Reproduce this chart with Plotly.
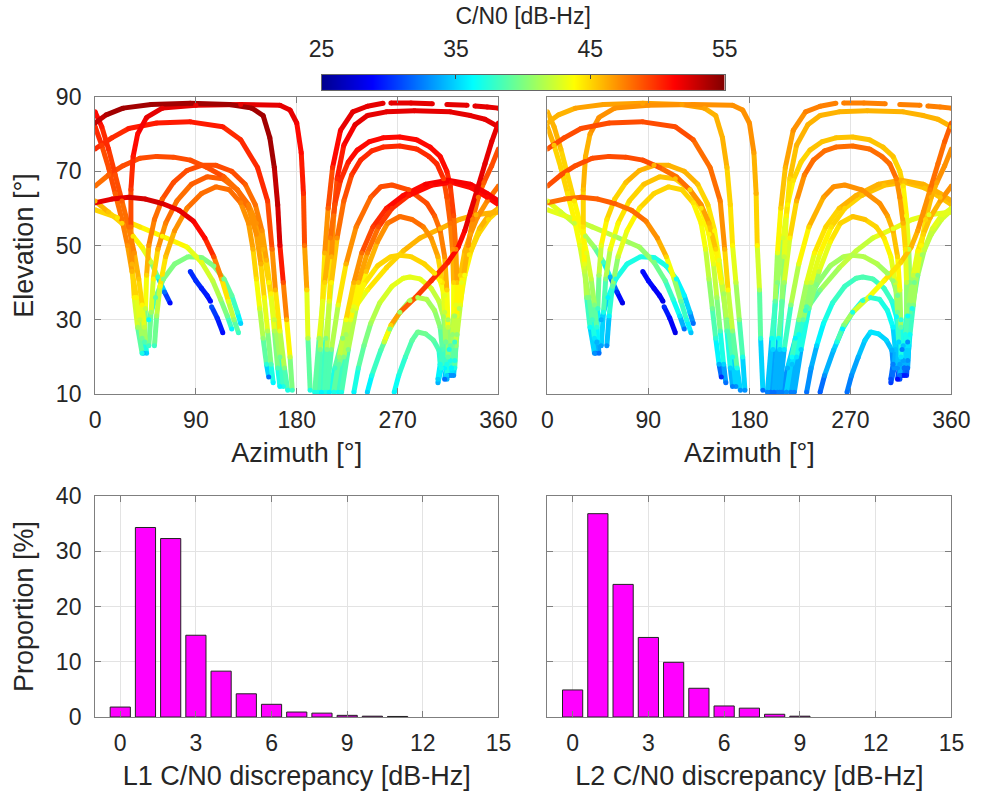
import plotly.graph_objects as go
from plotly.colors import sample_colorscale

# ---------------------------------------------------------------------------
# Satellite tracks: azimuth [deg], elevation [deg] and C/N0 [dB-Hz] on L1 / L2
# ---------------------------------------------------------------------------
track_az = [
    [0, 6, 12, 18, 24, 30, 35, 39, 42, 44, 45, 46],
    [0, 6, 12, 18, 24, 29, 33, 37, 40, 42, 43],
    [0, 10, 25, 50, 85, 120, 140, 150, 156, 160, 163, 165, 168, 171, 174, 176],
    [0, 15, 30, 55, 85, 114, 130, 145, 154, 158, 161, 165, 169, 172],
    [42, 38, 35, 33, 32, 32, 34, 38, 46, 60, 90, 130, 165, 174, 180, 184, 186, 187, 189, 190, 192],
    [199, 201, 203, 205, 208, 212, 219, 230, 243, 257],
    [264, 282, 301],
    [314, 332],
    [339, 350, 360],
    [205, 207, 209, 211, 213, 216, 222, 232, 243, 260, 285, 317, 335, 348, 360],
    [360, 354, 348, 341, 335, 330, 324, 315, 300, 286, 272, 264, 258],
    [360, 354, 347, 342, 337, 333, 329, 326, 323, 321, 320],
    [360, 350, 341, 335, 330, 326, 322, 319, 317, 316],
    [0, 12, 25, 40, 55, 70, 85, 100, 115, 127, 137, 144, 150, 155, 160, 165, 168],
    [44, 45, 46, 48, 53, 60, 70, 82, 95, 108, 122, 134, 143, 149, 153, 157, 160, 163, 165],
    [48, 50, 52, 56, 63, 73, 86, 100, 114, 127, 137, 144, 148, 151, 154, 157, 159],
    [53, 55, 58, 63, 71, 82, 95, 108, 120, 130, 137, 141, 144, 147, 150, 153, 155],
    [0, 15, 30, 45, 60, 75, 88, 98, 106, 113, 119, 124, 128],
    [0, 12, 24, 34, 42, 50, 56, 62, 67],
    [0, 20, 40, 60, 82, 95, 105, 112, 118, 122],
    [48, 54, 61, 71, 83, 95, 106, 115, 122, 127, 130],
    [85, 90, 95, 100, 103],
    [104, 109, 114],
    [213, 218, 224, 231, 238, 248, 260, 275, 295, 315, 335, 350, 360],
    [217, 222, 228, 235, 243, 253, 265, 280, 300, 318, 336, 350, 360],
    [196, 200, 205, 210, 214, 219, 226, 234, 245, 257, 272, 287, 299, 308, 314, 317, 320, 322, 323, 323, 322, 321],
    [202, 206, 211, 216, 222, 229, 237, 247, 257, 272, 287, 298, 305, 311, 314, 317, 319, 320, 320, 319, 318],
    [207, 211, 217, 224, 233, 246, 255, 265, 280, 296, 303, 308, 312, 314, 315, 315, 314],
    [220, 226, 233, 242, 252, 261, 272, 283, 293, 300, 306, 310, 312, 313, 312],
    [213, 218, 224, 231, 240, 252, 264, 272, 282, 294, 303, 308, 312, 315, 317, 318],
    [231, 235, 240, 246, 254, 265, 275, 281, 290, 300, 307, 311, 313, 314, 314],
    [243, 247, 255, 263, 272, 281, 288, 296, 303, 308, 310, 309, 306],
    [267, 271, 277, 283, 288, 295, 302, 307, 308, 306],
    [318, 321, 325, 330, 336, 343, 351, 360],
    [312, 316, 321, 327, 334, 342, 351, 360],
    [209, 214, 221, 230, 243, 260, 275, 290, 308, 325, 340, 360],
]

track_el = [
    [86, 82, 76, 69, 62, 55, 48, 41, 34, 28, 24, 21],
    [82, 77, 71, 64, 57, 50, 43, 36, 30, 25, 21],
    [83, 85.2, 87, 88, 88.3, 88, 87, 85, 79, 71, 61, 50, 40, 30, 20, 11],
    [76, 79, 81.5, 83, 83.3, 82, 78.5, 71, 62, 49, 38, 27, 17, 11],
    [21, 28, 36, 45, 55, 65, 74, 80, 84.5, 87, 87.8, 88, 87.8, 86.5, 83, 75, 64, 50, 38, 25, 11],
    [10.5, 22, 35, 48, 60, 71, 81, 86, 87.5, 88.3],
    [88.4, 88.4, 88.2],
    [88, 87.8],
    [87.6, 87.3, 87],
    [10.5, 22, 35, 47, 58, 68, 77, 82.5, 85, 86, 86.3, 86, 85, 84, 82],
    [83, 78, 72, 65, 59, 54, 49.5, 45.5, 40.5, 36, 32, 28.5, 24],
    [76, 71.5, 67, 63, 57, 50, 42, 34, 26, 19, 15],
    [66, 62, 57.5, 53, 48.5, 42, 34, 26, 19, 15],
    [66, 69, 71.5, 73.5, 74, 73.8, 73, 71, 68.5, 65, 61, 56, 49, 40, 30, 20, 12],
    [24, 33, 42, 50, 57, 62.5, 67, 70.2, 71.6, 71.6, 70, 66.5, 61, 54, 46, 37, 27, 17, 12],
    [23, 32, 41, 49, 56, 62, 66.5, 68.5, 68, 65, 60, 53, 45, 36, 27, 18, 13],
    [23, 31, 39, 47, 54, 60, 64, 65.8, 65, 61.5, 56, 49, 41, 33, 25, 18, 14.6],
    [61.5, 62.5, 63, 62.5, 61.3, 59.5, 56.5, 52, 47, 41, 35, 30, 26.5],
    [62, 59, 56, 52.5, 49.5, 45.5, 41.5, 37.5, 34.5],
    [59.6, 57.5, 55, 52.5, 49.6, 45.5, 40.5, 35.5, 31, 27.5],
    [30, 36, 41, 45, 47, 46.8, 44.5, 41, 36.5, 32, 29],
    [43, 40.5, 38.5, 36.5, 35],
    [33.5, 30.5, 26.5],
    [10.5, 20, 30, 40, 48, 55, 60, 63.5, 66.5, 67.6, 66.5, 64, 62],
    [10.5, 20, 30, 40, 48, 55, 60, 63.5, 66.2, 67, 65.5, 63, 61],
    [10.5, 25, 40, 52, 61, 67.5, 72.5, 75.7, 78, 79, 79.2, 78.5, 76.5, 74, 70, 66, 58, 49, 40, 31, 23, 17],
    [10.5, 25, 40, 52, 62, 69, 73, 75.5, 76.5, 76.8, 76, 74, 72, 68, 63, 56, 49, 40, 31, 23, 17],
    [10.5, 22, 34, 45, 55, 63, 65.8, 66.3, 65, 61.4, 58, 54, 47, 38, 28, 20, 15],
    [10.5, 22, 33, 43, 51, 56, 57.8, 57, 55, 52, 47, 40, 32, 24, 17],
    [10.5, 18, 26, 33.5, 39.5, 44.5, 47, 47.4, 47, 45, 42.5, 40.5, 36.5, 30, 23, 17],
    [10.5, 17, 23, 29, 34.5, 39, 41.2, 41.5, 41, 38.5, 35, 30.8, 24, 18, 14],
    [10.5, 15, 21.8, 27.5, 32, 35.2, 36, 35.5, 32.5, 28, 22, 17, 13],
    [10.5, 15, 20, 24.5, 26.7, 26.2, 24.5, 21.8, 18, 14],
    [15, 24, 33, 42, 49, 54.5, 58, 60],
    [14, 22, 31, 40, 47.5, 53, 57, 59.5],
    [10.5, 17, 25, 32.5, 38, 44, 48.5, 52, 54.5, 57, 58.3, 59],
]

cn0_l1 = [
    [51, 50.5, 50, 49, 48.5, 48, 47, 45.5, 44, 42, 39.5, 35],
    [50, 49.5, 49, 48.5, 48, 47, 46, 44, 42, 39.5, 34],
    [53, 53.5, 54, 54, 54, 54, 54, 54, 54, 53.5, 53, 52, 49, 46, 42, 38],
    [50, 50, 50.5, 50.5, 50.5, 50.5, 50, 50, 49.5, 48, 46, 43, 40, 37],
    [37, 41, 44, 46, 48, 49.5, 50.5, 51, 52, 52, 52, 52, 52, 52, 51.5, 51, 50, 48, 45, 41.5, 37],
    [37, 40, 43, 46, 48.5, 50, 51.5, 52, 52, 52],
    [52, 52, 52],
    [52, 52],
    [52, 52, 52],
    [37, 40, 43, 46, 48, 50, 51, 52, 52, 52, 52, 52, 52, 52, 51.5],
    [52, 52, 52, 52, 52, 51.5, 51, 50.5, 50, 49, 48, 45, 42],
    [49, 49, 48.5, 48, 47.5, 47, 45, 43, 40.5, 37, 33],
    [48, 47.5, 47, 46.5, 46, 45, 43, 40.5, 37, 33],
    [48, 48.5, 49, 49, 49, 49, 49, 49, 48.5, 48, 47.5, 47, 46, 44, 42, 39.5, 37],
    [38.5, 42, 45, 47, 48, 48.5, 49, 49, 49, 49, 49, 48.5, 48, 47, 46, 44, 41.5, 38.5, 36],
    [38, 41, 44, 46, 47.5, 48, 48.5, 48.5, 48.5, 48, 47.5, 47, 46, 44, 41.5, 38.5, 36],
    [38, 41, 43.5, 45.5, 47, 47.5, 48, 48, 48, 47.5, 47, 46, 44.5, 42.5, 40.5, 37.5, 32],
    [52, 52, 52.5, 52.5, 52.5, 52, 51.5, 51, 49, 46, 43, 40.5, 38],
    [46, 45.5, 45, 44.5, 44, 42, 38, 32, 29],
    [45, 44.5, 44.5, 44, 43.5, 43, 42, 41, 39.5, 36],
    [36.5, 39, 40, 40, 40, 40, 40, 39.5, 39, 37.5, 35],
    [30, 30, 29.5, 29.5, 29],
    [31, 30, 29],
    [37, 40.5, 43.5, 46, 48, 49.5, 50.5, 51, 51.5, 51.5, 51.5, 51.5, 51.5],
    [36.5, 40, 43, 45.5, 47.5, 49, 50, 50.5, 51, 51, 51, 51, 51],
    [37, 41, 45, 47.5, 49, 50, 50.5, 51, 51, 51, 51, 51, 51, 51, 50.5, 50, 49, 47.5, 45.5, 43, 40.5, 37],
    [36, 40, 44, 47, 48.5, 49.5, 50, 50, 50, 50, 50, 50, 50, 49.5, 49, 48, 47, 45, 42, 39.5, 36],
    [37, 40, 43, 46, 47.5, 48.5, 49, 49, 49, 49, 48.5, 48, 47, 45, 42, 39, 35],
    [37, 40, 43, 45.5, 47, 47.5, 48, 48, 47.5, 47, 46, 44.5, 42, 39.5, 36],
    [37, 39, 41, 43, 44, 45, 45, 45, 45, 45, 44.5, 44, 43, 41, 39, 36],
    [36, 38, 39.5, 41, 42, 43, 43, 43, 43, 42.5, 42, 41, 39.5, 37, 34],
    [35, 37, 38.5, 40, 41, 41.5, 41.5, 41.5, 41, 40, 38.5, 37, 34],
    [36, 37, 38, 39, 39.5, 39.5, 39, 38, 37, 35],
    [33, 38, 41.5, 43.5, 45, 45.5, 46, 46],
    [32, 37, 41, 43, 44.5, 45, 45, 45],
    [36, 38, 40, 42.5, 44, 45, 45.5, 46, 46, 46, 46, 46],
]

cn0_l2 = [
    [46, 46, 45.5, 45, 44.5, 44, 43, 42, 40, 37.5, 35, 32],
    [46, 45.5, 45, 44.5, 44, 43, 42, 40, 38, 35.5, 32],
    [46, 46, 46.5, 46.5, 46.5, 46.5, 46.5, 46, 46, 45.5, 45, 44, 42, 40, 37, 33],
    [48.5, 49, 49, 49, 49, 49, 48.5, 48, 47.5, 46, 44, 40.5, 37, 33],
    [33, 36.5, 40, 43, 44.5, 45.5, 46, 46.5, 47, 47, 47, 47, 47, 47, 47, 46.5, 46, 44, 41, 37.5, 32],
    [32, 35, 39, 43, 45, 46, 47, 47.5, 47.5, 47.5],
    [47.5, 47.5, 47.5],
    [47.5, 47.5],
    [47.5, 47.5, 47.5],
    [32.5, 35, 39, 42, 44, 45, 46, 46, 46, 46, 46, 46, 46, 46, 46],
    [48.5, 48.5, 48, 47.5, 47, 46.5, 46, 45, 44, 43, 42, 40, 37],
    [47, 47, 46.5, 46, 45, 44, 42, 40, 36.5, 33, 30],
    [47, 46.5, 46, 45, 44, 42, 40, 37, 33.5, 30],
    [48.5, 49, 49, 49, 49, 49, 49, 48.5, 48, 47.5, 47, 46, 45, 43, 40, 37, 33],
    [34, 38, 41, 43, 44.5, 45, 45.5, 46, 46, 46, 46, 45.5, 45, 44, 43, 41, 38.5, 35, 32.5],
    [33.5, 37, 40, 43, 44, 45, 45.5, 45.5, 45.5, 45, 44.5, 44, 43, 41, 38.5, 35, 32],
    [33, 36, 39, 42, 43.5, 44.5, 45, 45, 45, 44.5, 44, 43, 41.5, 39.5, 37.5, 34, 30],
    [48, 48, 48.5, 48.5, 48.5, 48, 47.5, 47, 45, 42, 39, 37, 34.5],
    [43, 42.5, 42, 41.5, 40.5, 38, 34, 30, 28],
    [43, 42.5, 42, 41.5, 41, 40, 39, 37.5, 35.5, 32],
    [34, 36, 37, 37, 37, 37, 37, 36.5, 36, 34.5, 32],
    [29, 29, 28.5, 28.5, 28],
    [30, 29, 28],
    [33, 36.5, 40, 42.5, 44, 45, 45.5, 46, 46, 46, 46, 46, 46],
    [32.5, 35.5, 39, 42, 43.5, 44.5, 45, 45.5, 45.5, 45.5, 45.5, 45.5, 45.5],
    [32.5, 36.5, 40, 42.5, 44, 44.5, 45, 45.5, 45.5, 45.5, 45.5, 45.5, 45.5, 45.5, 45, 44.5, 43.5, 42, 40, 38, 35.5, 32],
    [32, 36.5, 41, 44, 46, 47.5, 48, 48, 48, 48, 48, 48, 48, 47.5, 47, 46, 44.5, 42, 39, 35.5, 32],
    [32.5, 35.5, 40, 43, 45, 46.5, 47, 47, 47, 47, 46.5, 46, 45, 43, 39, 35.5, 32],
    [32.5, 35, 39, 42, 44, 45, 45.5, 45.5, 45, 44.5, 43.5, 42, 39.5, 36, 33],
    [33, 34.5, 36.5, 38.5, 40, 41, 41.5, 41.5, 41.5, 41.5, 41, 40.5, 39.5, 37.5, 34.5, 32],
    [32, 33.5, 35, 36.5, 37.5, 38, 38.5, 38.5, 38.5, 38, 37.5, 36.5, 35, 33.5, 31],
    [31.5, 33, 34.5, 36, 37, 37.5, 37.5, 37.5, 37, 36, 34.5, 33, 30.5],
    [32, 33, 34, 35, 35.5, 35.5, 35, 34, 32.5, 31],
    [29.5, 33, 37, 40, 42, 42.5, 43, 43],
    [29, 32.5, 36.5, 39.5, 41, 42, 42.5, 42.5],
    [32.5, 34, 36, 38, 40, 41.5, 42, 42.5, 43, 43, 43, 43],
]

# Histograms of the C/N0 discrepancy (1 dB-Hz bins)
bin_centers_l1 = [0, 1, 2, 3, 4, 5, 6, 7, 8, 9, 10, 11]
proportion_l1 = [1.8, 34.3, 32.3, 14.8, 8.3, 4.2, 2.3, 0.9, 0.7, 0.3, 0.15, 0.1]
bin_centers_l2 = [0, 1, 2, 3, 4, 5, 6, 7, 8, 9]
proportion_l2 = [4.9, 36.8, 24.0, 14.4, 9.9, 5.2, 2.0, 1.6, 0.5, 0.15]

az_ticks = [0, 90, 180, 270, 360]
el_ticks = [10, 30, 50, 70, 90]
disc_ticks = [0, 3, 6, 9, 12, 15]
prop_ticks = [0, 10, 20, 30, 40]
cbar_ticks = [25, 35, 45, 55]

# ---------------------------------------------------------------------------
JET = [[0.0, "rgb(0,0,143)"], [0.125, "rgb(0,0,255)"], [0.375, "rgb(0,255,255)"],
       [0.625, "rgb(255,255,0)"], [0.875, "rgb(255,0,0)"], [1.0, "rgb(128,0,0)"]]
CMIN, CMAX = 25, 55
FONT = "Liberation Sans, Arial, sans-serif"
TXT = "#262626"
AXC = "#7f7f7f"
GRID = "#e3e3e3"
TICK_SIZE = 23
TITLE_SIZE = 27

fig = go.Figure()


def add_sky_tracks(xa, ya, cn0_sets):
    """Colour each track segment by its C/N0 on the jet scale."""
    groups = {}
    mx, my, mc = [], [], []
    for az, el, cn in zip(track_az, track_el, cn0_sets):
        for i in range(len(az) - 1):
            level = round((cn[i] + cn[i + 1]) * 0.5 * 2) / 2
            gx, gy = groups.setdefault(level, ([], []))
            gx.extend([az[i], az[i + 1], None])
            gy.extend([el[i], el[i + 1], None])
        mx += az
        my += el
        mc += cn
    for level in sorted(groups):
        colour = sample_colorscale(JET, [(level - CMIN) / (CMAX - CMIN)])[0]
        gx, gy = groups[level]
        fig.add_trace(go.Scatter(x=gx, y=gy, mode="lines",
                                 line=dict(color=colour, width=5),
                                 xaxis=xa, yaxis=ya, showlegend=False,
                                 hoverinfo="skip"))
    fig.add_trace(go.Scatter(x=mx, y=my, mode="markers",
                             marker=dict(size=5, color=mc, coloraxis="coloraxis",
                                         line=dict(width=0)),
                             xaxis=xa, yaxis=ya, showlegend=False))


add_sky_tracks("x", "y", cn0_l1)
add_sky_tracks("x2", "y2", cn0_l2)

# Colour key: smoothed heatmap of the tick levels on its own small axis pair
fig.add_trace(go.Heatmap(z=[cbar_ticks, cbar_ticks], x=cbar_ticks, y=[0, 1],
                         coloraxis="coloraxis", zsmooth="best", hoverinfo="skip",
                         xaxis="x5", yaxis="y5"))

bar_style = dict(marker=dict(color="#ff00ff", line=dict(color="#222222", width=1)),
                 width=0.8, showlegend=False)
fig.add_trace(go.Bar(x=bin_centers_l1, y=proportion_l1, xaxis="x3", yaxis="y3", **bar_style))
fig.add_trace(go.Bar(x=bin_centers_l2, y=proportion_l2, xaxis="x4", yaxis="y4", **bar_style))


def axis(domain, rng, ticks, title=None, labels=True, anchor=None, vertical=False):
    d = dict(domain=domain, range=rng, tickvals=ticks, showline=True, linecolor=AXC,
             linewidth=1, mirror="ticks", ticks="inside", ticklen=6, tickcolor=AXC,
             showgrid=True, gridcolor=GRID, gridwidth=1, zeroline=False,
             showticklabels=labels, automargin=False,
             ticklabelstandoff=8 if vertical else 5,
             tickfont=dict(family=FONT, size=TICK_SIZE, color=TXT),
             fixedrange=True)
    if anchor:
        d["anchor"] = anchor
    if title:
        d["title"] = dict(text=title, font=dict(family=FONT, size=TITLE_SIZE, color=TXT),
                          standoff=14 if vertical else 11)
    return d


XL = [0.0962, 0.5045]
XR = [0.5540, 0.9630]
YT = [0.5044, 0.8780]
YB = [0.0981, 0.3761]
CB_X = [0.3255, 0.7335]
CB_Y = [0.8868, 0.9057]

fig.update_layout(
    width=988, height=795,
    margin=dict(l=0, r=0, t=0, b=0, autoexpand=False),
    paper_bgcolor="white", plot_bgcolor="white",
    font=dict(family=FONT, color=TXT),
    xaxis=axis(XL, [0, 360], az_ticks, "Azimuth [°]", anchor="y"),
    yaxis=axis(YT, [10, 90], el_ticks, "Elevation [°]", anchor="x", vertical=True),
    xaxis2=axis(XR, [0, 360], az_ticks, "Azimuth [°]", anchor="y2"),
    yaxis2=axis(YT, [10, 90], el_ticks, labels=False, anchor="x2"),
    xaxis3=axis(XL, [-1, 15], disc_ticks, "L1 C/N0 discrepancy [dB-Hz]", anchor="y3"),
    yaxis3=axis(YB, [0, 40], prop_ticks, "Proportion [%]", anchor="x3", vertical=True),
    xaxis4=axis(XR, [-1, 15], disc_ticks, "L2 C/N0 discrepancy [dB-Hz]", anchor="y4"),
    yaxis4=axis(YB, [0, 40], prop_ticks, labels=False, anchor="x4"),
    xaxis5=dict(domain=CB_X, range=[CMIN, CMAX], tickvals=cbar_ticks, side="top",
                anchor="y5", showline=True, mirror=True, linecolor="#666666", linewidth=1,
                showgrid=False, zeroline=False, ticks="inside", ticklen=4,
                tickcolor="#444444", automargin=False, ticklabelstandoff=8,
                fixedrange=True,
                tickfont=dict(family=FONT, size=TICK_SIZE, color=TXT),
                title=dict(text="C/N0 [dB-Hz]", standoff=4,
                           font=dict(family=FONT, size=TICK_SIZE, color=TXT))),
    yaxis5=dict(domain=CB_Y, range=[0, 1], anchor="x5", showline=True, mirror=True,
                linecolor="#666666", linewidth=1, showgrid=False, zeroline=False,
                ticks="", showticklabels=False, automargin=False, fixedrange=True),
    coloraxis=dict(cmin=CMIN, cmax=CMAX, colorscale=JET, showscale=False),
)

fig.write_html("out.html")
